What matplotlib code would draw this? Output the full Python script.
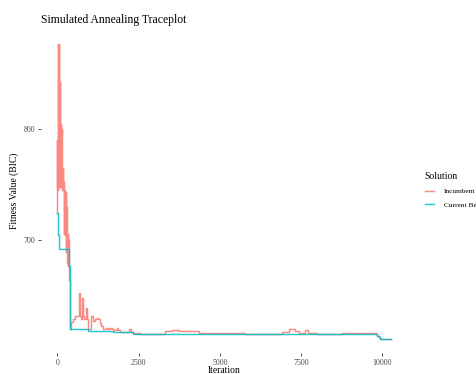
import numpy as np
import matplotlib
matplotlib.use("Agg")
import matplotlib.pyplot as plt

plt.rcParams['font.family'] = ['Liberation Serif', 'DejaVu Serif']

# incumbent (fluctuating) solution: iteration / BIC
inc_iter = [0, 3, 6, 9, 12, 15, 18, 21, 24, 27, 30, 33, 36, 39, 42, 45, 48, 51,
            54, 57, 60, 63, 66, 69, 72, 75, 78, 81, 84, 87, 90, 94, 98, 102, 106,
            110, 114, 118, 122, 126, 130, 134, 138, 142, 146, 152, 158, 164, 170,
            176, 182, 190, 198, 206, 214, 222, 230, 240, 250, 260, 270, 280, 290,
            300, 310, 320, 330, 340, 350, 365, 380, 395,
            413, 493, 545, 640, 659, 690, 720, 752, 790, 822, 860, 884, 910, 930,
            1000, 1047, 1100, 1152, 1213, 1263, 1315, 1346, 1408, 1500, 1562,
            1615, 1680, 1746, 1830, 1870, 1930, 2137, 2200, 2260, 2330, 2550,
            3317, 3523, 3758, 4373, 5420, 5780, 6910, 7115, 7320, 7450, 7630,
            7700, 7990, 8760, 9816, 9840, 9900, 9940, 10270]
inc_bic = [725, 790, 748, 848, 760, 835, 745, 810, 770, 846, 752, 876, 748, 860,
           770, 876, 750, 845, 760, 830, 748, 845, 772, 815, 750, 838, 760, 820,
           748, 842, 765, 804, 750, 800, 748, 790, 755, 804, 748, 795, 752, 785,
           746, 800, 750, 770, 745, 765, 748, 760, 745, 752, 745, 706, 745, 742,
           712, 743, 705, 743, 690, 730, 700, 706, 680, 706, 677, 700, 680, 665,
           658, 620.5,
           627, 629.5, 632, 632, 653, 632, 629.5, 648.8, 632, 629.5, 629.5, 640,
           629.5, 621, 621, 632, 628, 630, 630.6, 629.5, 626.5, 623.5, 620.5,
           621.4, 620.5, 622, 620.5, 619.5, 622, 619.5, 618.5, 618.1, 620.5,
           618.1, 617.2, 616.7, 618.8, 620, 618.75, 617.6, 617.6, 616.5, 618.1,
           620.5, 619.4, 617.6, 619.9, 617.6, 616.5, 617.6, 616.6, 614.6, 613.5,
           612.2, 612.2]

# current best solution
best_iter = [0, 15, 45, 350, 395, 945, 1700, 2330, 5800, 9840, 9900, 9940, 10270]
best_bic = [725, 704.5, 692.6, 677, 620.5, 619.3, 618.2, 616.7, 616.4, 614.6,
            613.5, 612.2, 612.2]

fig = plt.figure(figsize=(4.77, 3.74), dpi=100)
ax = fig.add_axes([0.085, 0.056, 0.77, 0.866])

ax.plot(inc_iter, inc_bic, drawstyle='steps-post', color='#F8766D', alpha=0.85,
        lw=1.05, label='Incumbent')
ax.plot(best_iter, best_bic, drawstyle='steps-post', color='#00BFC4', alpha=0.85,
        lw=1.05, label='Current Be')

ax.set_xlim(-515, 10785)
ax.set_ylim(599.3, 889)
ax.set_xticks([0, 2500, 5000, 7500, 10000])
ax.set_yticks([700, 800])
for s in ax.spines.values():
    s.set_visible(False)
ax.tick_params(labelsize=5.7, labelcolor='#4D4D4D', color='#333333',
               length=2.5, width=0.6, pad=1.5)

ax.set_xlabel('Iteration', fontsize=6.9, labelpad=-0.5)
ax.set_ylabel('Fitness Value (BIC)', fontsize=6.9, labelpad=3)
ax.set_title('Simulated Annealing Traceplot', fontsize=8.4, loc='left', pad=4.5)

leg = fig.legend(loc='upper left', bbox_to_anchor=(418 / 477, 1 - 165 / 374),
                 frameon=False, title='Solution', fontsize=5.3,
                 title_fontsize=6.9, alignment='left', handlelength=1.3,
                 handletextpad=1.3, labelspacing=1.0)

fig.savefig('out.png', dpi=100)
